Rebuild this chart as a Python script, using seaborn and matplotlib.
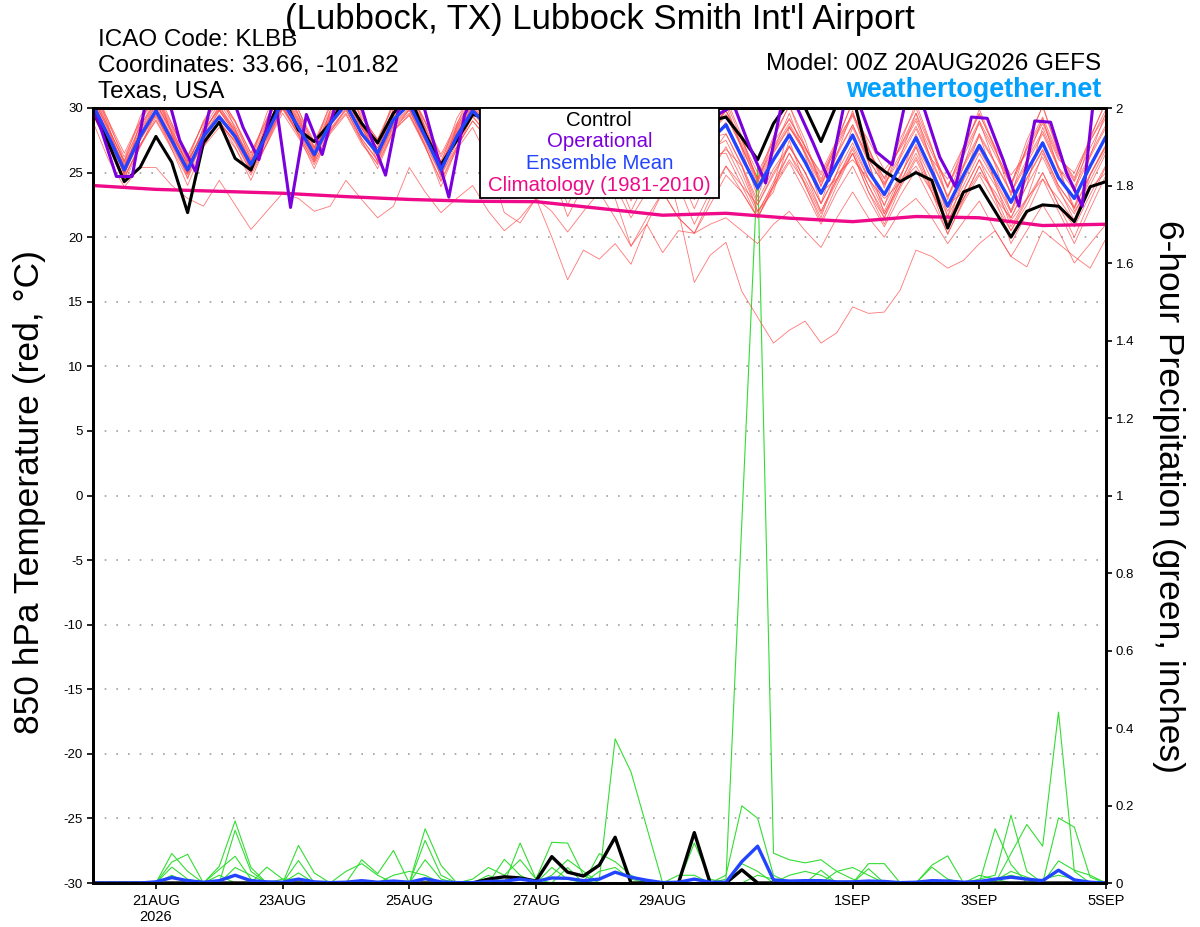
import numpy as np
import pandas as pd
import matplotlib
matplotlib.use("Agg")
import matplotlib.pyplot as plt
from matplotlib.patches import Rectangle
import seaborn as sns

# forecast hours from 00Z 20AUG2026 (6-hourly GEFS output)
fhours = list(range(0, 385, 6))
op_hours = list(range(-3, 382, 6))   # operational run sits 3 h off the ensemble steps
clim_hours = list(range(0, 385, 24))

day_ticks = [24, 72, 120, 168, 216, 288, 336, 384]
day_labels = ["21AUG\n2026", "23AUG", "25AUG", "27AUG", "29AUG", "1SEP", "3SEP", "5SEP"]

# ---- 850 hPa temperature, ensemble members (C) ----
t_e01 = [31.5,29.0,26.5,29.0, 31.0,28.8,26.2,28.9, 30.8,29.0,26.5,29.2, 31.8,29.8,27.4,30.1,
         31.5,29.4,27.5,30.2, 31.2,28.9,26.4,28.8, 30.9,29.5,27.0,29.2, 30.6,29.0,26.5,28.6,
         30.2,28.8,26.0,28.2, 30.0,28.5,25.8,28.5, 29.8,27.5,25.0,27.4, 29.1,27.0,24.8,27.2,
         29.6,26.8,24.5,27.0, 29.2,26.5,23.9,26.3, 28.8,26.4,24.0,26.8, 29.0,26.2,24.3,26.9, 29.3]
t_e02 = [29.0,26.0,23.9,25.4, 25.4,24.0,23.0,22.4, 24.4,22.5,20.6,22.0, 23.4,23.0,22.0,22.4,
         24.4,22.9,21.5,22.4, 25.4,23.5,21.9,23.0, 24.0,22.0,20.5,21.5, 23.0,20.0,16.7,19.0,
         18.3,19.5,17.9,21.0, 18.8,20.5,20.3,21.0, 21.5,20.5,19.5,21.0, 22.0,20.5,19.2,21.5,
         23.5,21.5,20.0,22.0, 23.0,21.5,19.5,21.2, 22.8,20.5,18.5,17.7, 20.5,19.5,18.5,17.6, 19.9]
t_e03 = [30.8,28.2,25.5,28.0, 30.2,27.8,25.0,27.6, 29.8,28.0,25.2,28.3, 31.0,29.0,26.6,29.3,
         30.8,28.6,26.9,29.6, 30.5,28.0,25.6,28.0, 30.0,28.5,26.0,28.2, 29.5,27.0,24.0,26.5,
         28.5,26.0,23.0,25.5, 26.5,22.0,16.5,18.6, 19.6,15.8,13.8,11.8, 12.8,13.5,11.8,12.6,
         14.6,14.1,14.2,15.9, 19.0,18.5,17.6,18.2, 19.5,20.5,18.5,20.5, 22.5,20.5,18.0,19.5, 21.0]
t_e04 = [31.0,28.5,25.8,28.5, 30.8,28.2,25.6,28.4, 30.4,28.6,26.3,28.9, 31.4,29.4,27.0,29.6,
         31.2,28.9,27.2,29.9, 31.1,28.6,25.9,28.5, 30.8,29.2,26.5,28.7, 30.2,28.8,26.2,28.3,
         29.9,28.3,25.8,27.9, 29.6,28.0,25.7,28.2, 29.5,27.0,24.5,26.8, 28.8,26.6,24.2,26.5,
         28.7,26.0,24.1,26.4, 28.6,26.0,23.2,25.6, 28.0,25.8,23.5,26.0, 28.2,25.4,23.9,26.4, 28.7]
t_e05 = [29.5,27.0,24.5,27.2, 29.0,26.8,24.6,27.0, 28.5,26.9,24.8,27.2, 29.6,27.7,25.6,28.0,
         29.5,27.2,25.7,28.3, 29.4,27.0,24.4,27.0, 29.0,27.6,25.0,27.1, 28.5,27.0,24.0,26.5,
         28.0,26.5,23.8,26.0, 27.6,26.0,23.9,26.4, 26.5,24.0,21.5,23.8, 25.8,23.5,21.0,23.5,
         25.5,23.0,20.8,23.2, 25.2,22.8,20.3,22.7, 24.8,22.6,20.5,22.9, 25.0,22.5,20.8,23.3, 25.6]
t_e06 = [32.0,28.6,24.8,28.9, 31.5,28.0,24.5,28.6, 31.2,28.4,25.0,29.0, 32.5,29.5,25.9,29.8,
         32.3,29.0,25.8,30.0, 32.0,28.4,24.6,28.7, 31.6,29.0,25.2,28.9, 31.0,28.5,24.8,28.0,
         30.5,27.8,24.2,27.6, 30.4,27.6,24.5,28.0, 30.3,26.8,23.1,26.7, 29.6,26.3,22.6,26.4,
         29.8,25.8,22.4,26.2, 29.6,25.7,21.6,25.5, 29.0,25.6,21.9,25.9, 29.2,25.2,22.3,26.3, 29.7]
t_e07 = [30.6,28.0,25.0,27.5, 29.5,27.8,25.8,28.3, 29.9,28.2,25.9,27.6, 30.0,28.1,26.0,29.1,
         30.9,28.5,26.2,28.6, 29.8,27.5,25.5,28.3, 30.4,28.8,26.3,27.7, 29.2,27.6,25.1,27.8,
         29.6,27.9,24.7,26.6, 28.4,27.5,25.4,27.9, 29.8,27.0,24.0,26.5, 28.5,26.8,25.0,27.5,
         29.5,27.5,25.2,26.8, 29.0,26.0,24.5,27.0, 29.5,27.0,24.8,26.5, 28.8,26.0,25.0,27.5, 29.5]
t_e08 = [30.0,27.5,24.9,27.5, 29.6,27.2,24.8,27.4, 29.0,27.3,25.0,27.5, 30.0,28.0,25.8,28.3,
         29.8,27.6,25.9,28.5, 29.6,27.0,24.3,26.8, 28.5,26.0,21.9,21.1, 23.0,22.0,20.4,22.0,
         23.5,21.5,19.3,21.0, 23.5,21.5,20.3,22.5, 24.8,23.5,21.5,24.0, 26.5,24.5,22.0,24.5,
         27.0,24.5,22.0,24.7, 27.2,24.8,22.0,24.4, 26.8,24.5,22.1,24.6, 26.8,24.0,22.2,24.8, 27.2]
t_e09 = [31.2,28.8,26.2,28.9, 30.9,28.6,26.3,28.8, 30.6,28.9,26.5,29.1, 31.6,29.5,27.3,29.8,
         31.4,29.2,27.6,30.3, 31.3,28.9,26.2,28.6, 30.7,29.4,26.9,28.9, 30.3,28.7,25.8,27.6,
         29.5,27.9,24.6,26.8, 29.0,27.0,23.8,26.5, 30.5,27.5,24.5,27.8, 30.2,27.0,24.3,27.5,
         30.5,26.8,24.2,27.6, 30.0,26.9,23.8,27.0, 29.6,26.8,24.0,27.5, 30.1,26.5,24.4,27.8, 30.4]
t_e10 = [29.8,27.3,24.6,27.0, 29.1,27.0,24.9,27.5, 28.8,27.5,25.3,27.7, 30.1,28.2,26.1,28.4,
         29.9,27.6,26.0,28.7, 29.9,27.4,24.8,27.3, 29.3,28.0,25.6,27.5, 28.8,27.3,24.2,26.2,
         27.5,25.8,22.8,25.2, 27.2,25.6,22.9,25.8, 26.8,25.5,22.0,23.5, 27.5,24.0,21.5,25.0,
         28.5,25.8,21.8,24.0, 27.0,23.5,21.0,24.5, 28.0,24.2,20.8,23.0, 26.5,23.8,21.3,24.8, 27.0]
t_e11 = [30.5,28.0,25.6,28.2, 30.4,28.0,25.7,28.3, 29.9,28.3,26.1,28.6, 30.9,28.9,26.8,29.2,
         30.8,28.5,26.9,29.5, 30.8,28.3,25.7,28.2, 30.3,29.0,26.5,28.5, 30.1,28.6,26.1,28.2,
         29.8,28.2,25.6,27.7, 29.6,28.0,25.8,28.3, 29.8,27.2,24.6,27.0, 29.2,27.0,24.5,27.0,
         29.4,26.5,24.6,27.0, 29.6,26.8,24.0,26.6, 29.0,26.7,24.2,26.9, 29.3,26.4,24.6,27.4, 29.9]
t_e12 = [30.0,27.6,25.4,27.9, 29.4,27.3,25.3,27.7, 29.2,27.6,25.4,27.8, 30.3,28.3,26.2,28.6,
         30.1,27.9,26.3,28.8, 30.0,27.6,25.0,27.5, 29.6,28.2,25.8,27.8, 29.0,27.2,24.5,26.6,
         28.2,26.4,23.5,25.8, 28.0,26.2,23.6,26.3, 28.0,25.6,22.8,25.3, 27.1,25.0,22.6,24.9,
         26.0,24.5,23.0,24.2, 25.5,23.5,21.0,23.0, 25.0,23.5,21.3,23.0, 24.5,23.0,21.2,23.8, 25.0]
t_e13 = [29.6,27.1,24.7,27.1, 29.3,27.2,25.0,27.6, 28.9,27.4,25.1,27.2, 29.9,27.9,25.8,28.2,
         29.6,27.4,25.6,28.2, 29.5,27.2,24.8,27.0, 29.0,27.5,24.8,26.5, 27.5,25.0,21.6,24.0,
         26.0,24.0,21.5,23.5, 26.5,24.0,21.0,23.5, 25.5,23.5,21.5,24.0, 26.0,24.2,21.8,24.3,
         26.5,24.0,21.5,24.0, 26.2,23.8,20.8,23.0, 25.5,23.2,20.5,22.5, 25.0,22.5,20.0,22.8, 25.5]
t_e14 = [31.2,28.5,25.7,28.0, 30.3,28.3,25.9,28.1, 30.1,28.4,25.7,28.5, 31.1,29.1,26.6,29.0,
         31.0,28.7,26.7,29.4, 30.6,28.1,25.1,27.9, 30.2,28.7,25.9,28.1, 29.8,28.4,25.6,27.9,
         29.5,27.8,25.1,27.3, 29.2,27.5,25.1,27.7, 28.0,25.5,22.5,25.0, 27.0,25.0,22.0,24.5,
         26.8,24.0,21.8,24.3, 26.5,24.0,21.2,23.6, 26.0,24.0,21.5,24.0, 26.2,23.6,21.8,24.4, 26.8]
t_e15 = [30.2,27.0,24.2,27.0, 29.6,26.8,24.0,27.0, 29.0,27.0,24.4,27.3, 30.2,27.9,25.3,28.1,
         30.0,27.4,25.3,28.2, 29.9,27.1,23.9,26.9, 29.4,27.7,24.6,27.1, 28.5,26.0,22.5,25.0,
         27.5,25.0,22.0,24.5, 27.0,25.0,22.2,25.0, 27.0,24.5,21.8,24.3, 26.5,24.0,21.2,24.0,
         26.5,23.5,21.0,23.8, 26.0,23.5,20.2,22.9, 25.5,23.0,19.5,21.8, 24.5,22.0,19.5,22.2, 24.8]
t_e16 = [30.9,28.3,25.4,28.3, 30.6,28.5,25.5,28.0, 30.2,28.1,25.9,28.4, 31.3,29.2,26.9,29.5,
         30.6,28.4,26.4,29.0, 30.9,28.5,25.6,28.4, 30.5,29.0,26.2,28.6, 30.0,28.3,25.4,27.7,
         29.7,28.0,25.2,27.5, 29.4,27.7,25.3,28.0, 29.4,26.9,24.3,26.6, 28.6,26.5,24.0,26.3,
         28.7,26.0,24.0,26.1, 28.4,25.8,23.1,25.4, 27.8,25.7,23.4,25.7, 28.0,25.3,23.6,26.2, 28.5]
t_e17 = [31.8,29.0,25.9,29.3, 31.6,28.8,25.9,29.0, 31.0,29.0,26.0,29.6, 32.0,29.9,26.9,30.4,
         31.9,29.6,27.1,30.6, 31.5,29.0,25.7,29.2, 31.2,29.6,26.2,29.4, 31.0,29.4,26.0,29.0,
         30.8,28.9,25.5,28.6, 30.6,28.6,25.6,29.0, 30.8,27.8,24.2,27.6, 30.2,27.5,23.9,27.4,
         30.5,27.0,23.8,27.2, 30.4,27.0,22.9,26.6, 29.9,26.9,23.2,27.1, 30.2,26.6,23.5,27.6, 30.6]
t_e18 = [30.4,27.6,24.9,27.7, 30.0,27.7,25.3,27.9, 29.5,27.9,25.5,28.1, 30.7,28.6,26.3,29.0,
         30.4,28.1,26.4,29.2, 30.5,27.9,25.2,28.0, 30.0,28.5,25.6,27.6, 29.3,27.5,24.8,27.0,
         28.6,26.8,24.3,26.5, 28.2,26.6,24.2,26.8, 27.5,25.0,22.0,24.0, 28.5,26.5,23.5,24.5,
         26.5,23.5,21.5,24.5, 28.0,25.0,22.5,23.5, 26.0,23.0,21.5,24.0, 28.5,25.5,22.0,24.0, 26.5]
t_e19 = [30.1,27.7,25.1,27.6, 29.7,27.4,25.1,27.7, 29.4,27.7,25.5,27.9, 30.4,28.4,26.2,28.7,
         30.2,27.9,26.3,28.9, 30.2,27.7,25.1,27.6, 29.7,28.3,25.7,27.6, 29.0,27.0,24.0,26.0,
         26.0,23.0,19.3,21.5, 23.5,21.5,20.3,23.0, 25.5,24.0,22.5,24.8, 27.0,25.0,22.6,25.0,
         27.3,24.6,22.5,24.8, 27.0,24.4,21.6,24.0, 26.5,24.3,21.9,24.5, 26.7,24.0,22.3,24.9, 27.1]
t_e20 = [30.7,28.4,25.9,28.6, 30.5,28.1,25.4,27.9, 29.8,28.0,25.8,28.4, 30.8,28.8,26.7,29.3,
         30.7,28.4,26.6,29.3, 30.6,28.2,25.4,28.1, 30.1,28.6,26.1,28.3, 29.6,27.8,25.2,27.4,
         29.2,27.4,24.8,27.0, 28.8,27.0,24.6,27.2, 28.9,26.3,23.6,26.1, 28.1,25.9,23.3,25.8,
         28.0,25.3,23.2,25.6, 27.8,25.2,22.3,24.9, 27.2,25.0,22.6,25.2, 27.4,24.7,22.9,25.6, 27.9]

t_control = [29.8,27.3,24.3,25.4, 27.8,25.8,21.9,27.3, 28.9,26.1,25.2,28.3, 31.0,28.3,27.4,28.8,
             30.8,28.8,27.3,29.6, 31.0,28.0,25.6,27.5, 29.5,29.2,27.0,29.0, 30.5,28.5,26.0,28.5,
             30.0,28.0,25.5,28.0, 30.5,29.0,26.5,29.0, 29.3,27.7,26.0,28.8, 30.5,30.0,27.4,30.3,
             31.0,26.1,25.1,24.3, 25.0,24.4,20.7,23.5, 24.0,22.0,20.0,22.0, 22.5,22.4,21.2,23.9, 24.3]
t_oper = [31.5,28.5,24.7,24.7, 31.5,32.0,27.5,25.1, 30.5,32.0,28.5,26.0, 31.0,22.3,29.5,26.4,
          31.0,32.0,28.0,24.8, 31.0,32.0,27.5,23.1, 29.5,32.0,29.0,26.5, 30.5,32.0,28.5,25.5,
          30.0,31.5,28.0,25.0, 29.5,31.5,28.5,26.0, 29.5,30.2,27.0,24.2, 30.2,30.0,27.3,24.4,
          30.5,30.0,26.6,25.6, 31.5,30.0,26.2,23.9, 29.3,29.2,26.0,22.4, 29.0,28.9,25.0,22.4, 34.0]
t_mean = [30.3,27.8,25.2,27.8, 29.8,27.5,25.2,27.8, 29.3,27.8,25.6,28.0, 30.5,28.5,26.4,28.8,
          30.3,28.0,26.5,29.1, 30.3,27.8,25.2,27.8, 29.8,28.5,26.0,28.0, 29.5,28.0,25.5,27.5,
          29.0,27.5,25.0,27.0, 28.8,27.2,25.0,27.5, 28.7,26.2,23.8,26.0, 27.9,25.8,23.4,25.7,
          27.9,25.1,23.3,25.5, 27.7,25.1,22.4,24.8, 27.1,24.9,22.7,25.1, 27.3,24.6,23.0,25.5, 27.8]
t_clim = [24.0, 23.7, 23.55, 23.4, 23.14, 22.92, 22.78, 22.75, 22.23,
          21.7, 21.85, 21.47, 21.2, 21.6, 21.5, 20.9, 21.0]

# ---- 6-hour precipitation, ensemble members (inches) ----
p_e01 = [0,0,0,0, 0,0.076,0.03,0, 0.043,0.16,0.04,0, 0,0.097,0.026,0,
         0,0.06,0.024,0.084, 0,0.14,0.046,0, 0,0.02,0,0, 0,0,0,0,
         0,0,0,0, 0,0,0,0, 0,0,0,0, 0,0,0,0,
         0,0,0,0, 0,0,0,0, 0,0,0,0, 0,0,0,0, 0]
p_e02 = [0,0,0,0, 0,0.054,0.074,0, 0,0.136,0.03,0, 0,0.058,0,0,
         0,0,0,0, 0,0.11,0.02,0, 0,0,0,0.103, 0.01,0.105,0.103,0.02,
         0,0,0,0, 0,0,0,0, 0,0,0,0, 0,0,0,0,
         0,0,0,0, 0,0,0,0, 0,0,0,0, 0,0,0,0, 0]
p_e03 = [0,0,0,0, 0,0,0,0, 0,0,0,0, 0,0,0,0,
         0,0,0,0, 0,0,0,0, 0,0,0,0, 0,0,0,0,
         0.01,0.372,0.287,0.143, 0,0,0,0, 0,0,0,0, 0,0,0,0,
         0,0,0,0, 0,0,0,0, 0,0,0,0, 0,0,0,0, 0]
p_e04 = [0,0,0,0, 0,0,0,0, 0.035,0.069,0.01,0, 0,0,0,0,
         0,0,0,0, 0,0,0,0, 0,0,0.061,0.02, 0,0,0.04,0,
         0.076,0.055,0.02,0, 0,0,0,0, 0.02,0.199,0.167,0.02, 0,0,0,0,
         0,0,0,0, 0,0,0,0, 0,0,0,0, 0,0,0,0, 0]
p_e05 = [0,0,0,0, 0,0,0,0, 0,0,0,0, 0,0,0,0,
         0,0,0,0, 0,0,0,0, 0,0,0,0, 0,0,0,0,
         0,0,0,0, 0,0,0,0, 0.01,0.93,1.85,0.077, 0.06,0.052,0.06,0.03,
         0.01,0,0,0, 0,0,0,0, 0,0,0,0, 0,0,0,0, 0]
p_e06 = [0,0,0,0, 0,0,0,0, 0,0,0,0.041, 0.01,0,0,0,
         0.03,0.05,0.02,0, 0,0,0,0, 0,0,0,0, 0,0,0,0,
         0,0,0,0, 0,0,0.103,0.01, 0,0,0,0, 0,0,0.033,0,
         0,0.037,0,0, 0,0,0,0, 0,0,0,0, 0,0,0,0, 0]
p_e07 = [0,0,0,0, 0,0.041,0.01,0, 0.02,0,0,0, 0,0.026,0,0,
         0,0,0,0, 0,0.06,0.01,0, 0,0,0,0, 0,0,0,0,
         0,0,0,0, 0,0.02,0.02,0, 0,0.05,0.03,0, 0,0,0,0,
         0,0.05,0.05,0, 0,0.046,0.07,0, 0,0,0,0, 0,0,0,0, 0]
p_e08 = [0,0,0,0, 0,0,0,0, 0,0,0,0, 0,0,0,0,
         0,0,0,0, 0,0,0,0, 0,0,0,0, 0,0.04,0.01,0,
         0,0,0,0, 0,0,0,0, 0,0,0,0, 0,0,0,0,
         0,0,0,0, 0,0,0,0, 0,0.14,0.048,0, 0,0,0,0, 0]
p_e09 = [0,0,0,0, 0,0,0,0, 0,0,0,0, 0,0,0,0,
         0,0,0,0, 0,0,0,0, 0,0,0,0, 0,0,0,0,
         0,0,0,0, 0,0,0,0, 0,0,0,0, 0,0,0,0,
         0,0,0,0, 0,0,0,0, 0.01,0.02,0.175,0.03, 0,0,0,0, 0]
p_e10 = [0,0,0,0, 0,0,0,0, 0,0,0,0, 0,0,0,0,
         0,0,0,0, 0,0,0,0, 0,0,0,0, 0,0,0,0,
         0,0,0,0, 0,0,0,0, 0,0,0,0, 0,0,0,0,
         0,0,0,0, 0,0,0,0, 0,0,0.076,0.151, 0.095,0.441,0.03,0, 0]
p_e11 = [0,0,0,0, 0,0,0,0, 0,0,0,0, 0,0,0,0,
         0,0,0,0, 0,0,0,0, 0,0,0,0, 0,0,0,0,
         0,0,0,0, 0,0,0,0, 0,0,0,0, 0,0,0,0,
         0,0,0,0, 0,0,0,0, 0,0,0,0, 0,0.168,0.144,0.015, 0]
p_e12 = [0,0,0,0, 0,0,0,0, 0,0,0,0, 0,0,0,0,
         0,0,0,0, 0,0,0,0, 0,0,0,0, 0,0,0,0,
         0,0,0,0, 0,0,0,0, 0,0,0,0, 0,0,0,0,
         0,0,0,0, 0,0.041,0.01,0, 0,0,0,0, 0,0.057,0.033,0.02, 0]
p_e13 = [0,0,0,0, 0,0,0,0, 0,0,0,0, 0,0,0,0,
         0,0,0,0, 0,0,0,0, 0.01,0.04,0.02,0.06, 0.01,0,0,0,
         0.03,0.04,0.01,0, 0,0,0,0, 0,0,0,0, 0,0,0,0.03,
         0.04,0.02,0,0, 0,0,0,0, 0,0,0,0, 0,0,0,0, 0]
p_e14 = [0,0,0,0, 0,0,0,0, 0,0.04,0.02,0, 0,0,0,0,
         0,0,0,0.02, 0.03,0.02,0,0, 0,0,0,0, 0,0,0,0,
         0,0,0,0, 0,0,0,0, 0,0,0,0, 0.02,0.03,0.02,0,
         0,0,0,0, 0,0,0,0, 0,0.01,0.02,0.01, 0,0,0,0, 0]
p_e15 = [0,0,0,0, 0,0.02,0,0, 0,0,0,0, 0.01,0.01,0,0,
         0,0,0,0, 0,0,0,0, 0,0,0,0, 0,0.02,0.06,0.03,
         0,0,0,0, 0,0,0,0, 0,0,0.02,0.01, 0,0,0,0,
         0,0,0,0, 0,0,0,0, 0,0.006,0.03,0.015, 0,0,0,0, 0]
p_e16 = [0,0,0,0, 0,0,0,0, 0,0,0,0, 0,0,0,0,
         0,0,0,0, 0,0,0,0, 0,0,0,0, 0,0,0,0,
         0,0,0,0, 0,0,0,0, 0,0,0,0, 0,0,0,0,
         0,0,0,0, 0,0,0,0, 0.02,0.01,0,0, 0.01,0.02,0.01,0, 0]

p_control = [0,0,0,0, 0,0,0,0, 0,0,0,0, 0,0,0,0,
             0,0,0,0, 0,0,0,0, 0,0.01,0.016,0.013, 0.005,0.068,0.028,0.018,
             0.046,0.118,0,0, 0,0,0.13,0, 0,0.034,0,0, 0,0,0,0,
             0,0,0,0, 0,0,0,0, 0,0,0,0, 0,0,0,0, 0]
p_mean = [0,0,0,0, 0.003,0.014,0.006,0.002, 0.006,0.02,0.006,0.003, 0.002,0.01,0.003,0.001,
          0.002,0.006,0.002,0.005, 0.002,0.011,0.003,0.001, 0.001,0.004,0.005,0.01, 0.004,0.013,0.012,0.006,
          0.01,0.028,0.015,0.007, 0.001,0.002,0.01,0.002, 0.002,0.055,0.095,0.008, 0.005,0.006,0.006,0.003,
          0.003,0.005,0.004,0.001, 0.002,0.006,0.005,0.002, 0.004,0.01,0.015,0.01, 0.006,0.033,0.008,0.002, 0]

temp_members = {"e01": t_e01, "e02": t_e02, "e03": t_e03, "e04": t_e04, "e05": t_e05,
                "e06": t_e06, "e07": t_e07, "e08": t_e08, "e09": t_e09, "e10": t_e10,
                "e11": t_e11, "e12": t_e12, "e13": t_e13, "e14": t_e14, "e15": t_e15,
                "e16": t_e16, "e17": t_e17, "e18": t_e18, "e19": t_e19, "e20": t_e20}
prcp_members = {"e01": p_e01, "e02": p_e02, "e03": p_e03, "e04": p_e04, "e05": p_e05,
                "e06": p_e06, "e07": p_e07, "e08": p_e08, "e09": p_e09, "e10": p_e10,
                "e11": p_e11, "e12": p_e12, "e13": p_e13, "e14": p_e14, "e15": p_e15,
                "e16": p_e16}

rows = []
for name, vals in temp_members.items():
    for h, v in zip(fhours, vals):
        rows.append({"member": name, "hour": h, "temp": v})
df_t = pd.DataFrame(rows)

rows = []
for name, vals in prcp_members.items():
    for h, v in zip(fhours, vals):
        rows.append({"member": name, "hour": h, "prcp": v})
df_p = pd.DataFrame(rows)

sns.set_theme(style="white")
plt.rcParams["font.family"] = ["Liberation Sans", "DejaVu Sans"]
plt.rcParams["axes.unicode_minus"] = False
plt.rcParams["text.color"] = "black"

fig = plt.figure(figsize=(12, 9.27), dpi=100)
ax = fig.add_axes([92.6 / 1200, 1 - 883 / 927, (1106 - 92.6) / 1200, (883 - 108) / 927])
ax2 = ax.twinx()
ax.set_zorder(ax2.get_zorder() + 1)
ax.patch.set_visible(False)

# precipitation (right axis, drawn underneath)
sns.lineplot(data=df_p, x="hour", y="prcp", units="member", estimator=None,
             color="#33dd33", lw=0.8, ax=ax2, legend=False)
sns.lineplot(x=fhours, y=p_control, color="black", lw=2.4, ax=ax2)
sns.lineplot(x=fhours, y=p_mean, color="#2244ff", lw=2.4, ax=ax2)

# temperature (left axis)
sns.lineplot(data=df_t, x="hour", y="temp", units="member", estimator=None,
             color="#ff4848", lw=0.6, alpha=0.75, ax=ax, legend=False)
sns.lineplot(x=clim_hours, y=t_clim, color="#ee0a88", lw=2.4, ax=ax)
sns.lineplot(x=fhours, y=t_control, color="black", lw=2.2, ax=ax)
sns.lineplot(x=op_hours, y=t_oper, color="#7a00dd", lw=2.2, ax=ax)
sns.lineplot(x=fhours, y=t_mean, color="#2244ff", lw=2.4, ax=ax)

ax.set_xlim(0, 384)
ax.set_ylim(-30, 30)
ax.set_yticks(range(-30, 31, 5))
ax.set_xticks(day_ticks)
ax.set_xticklabels(day_labels)
ax2.set_ylim(0, 2)
ax2.set_yticks(np.arange(0, 2.01, 0.2))
ax2.set_yticklabels([f"{v:g}" for v in np.round(np.arange(0, 2.01, 0.2), 1)])
ax.set_xlabel("")
ax.set_ylabel("")
ax2.set_ylabel("")

ax.yaxis.grid(True, linestyle=(0, (1, 6)), color="#a0a0a0", lw=1.2)
ax.xaxis.grid(False)
ax2.grid(False)

for a in (ax, ax2):
    for sp in a.spines.values():
        sp.set_color("black")
        sp.set_linewidth(2)
ax.tick_params(axis="both", direction="out", length=4, width=1.2, colors="black",
               labelsize=9.5, pad=3, left=True, bottom=True)
ax.tick_params(axis="x", labelsize=10.5, pad=4)
ax2.tick_params(axis="y", direction="out", length=4, width=1.2, colors="black",
                labelsize=9.5, pad=3, right=True)

# legend box
ax.add_patch(Rectangle((0.382, 0.8839), 0.236, 0.1161, transform=ax.transAxes,
                       facecolor="white", edgecolor="black", lw=1.3, zorder=10, clip_on=False))
leg_items = [("Control", "black", 0.9845), ("Operational", "#7a00dd", 0.957),
             ("Ensemble Mean", "#2244ff", 0.929), ("Climatology (1981-2010)", "#ee0a88", 0.9006)]
for txt, col, yy in leg_items:
    ax.text(0.5, yy, txt, color=col, ha="center", va="center", fontsize=14.7,
            transform=ax.transAxes, zorder=11)

# header texts
fig.text(0.5, 1 - 19 / 927, "(Lubbock, TX) Lubbock Smith Int'l Airport",
         ha="center", va="center", fontsize=25)
fig.text(98 / 1200, 1 - 40 / 927, "ICAO Code: KLBB", ha="left", va="center", fontsize=17.5)
fig.text(98 / 1200, 1 - 66 / 927, "Coordinates: 33.66, -101.82", ha="left", va="center", fontsize=17.5)
fig.text(98 / 1200, 1 - 92 / 927, "Texas, USA", ha="left", va="center", fontsize=17.5)
fig.text(1101 / 1200, 1 - 64 / 927, "Model: 00Z 20AUG2026 GEFS", ha="right", va="center", fontsize=17.5)
fig.text(1101 / 1200, 1 - 90 / 927, "weathertogether.net", ha="right", va="center",
         fontsize=19.4, fontweight="bold", color="#00a0ff")

fig.text(30 / 1200, 1 - 492 / 927, "850 hPa Temperature (red, °C)", rotation=90,
         ha="center", va="center", fontsize=25.5)
fig.text(1168 / 1200, 1 - 496 / 927, "6-hour Precipitation (green, inches)", rotation=-90,
         ha="center", va="center", fontsize=25.5)

fig.savefig("out.png", dpi=100)
